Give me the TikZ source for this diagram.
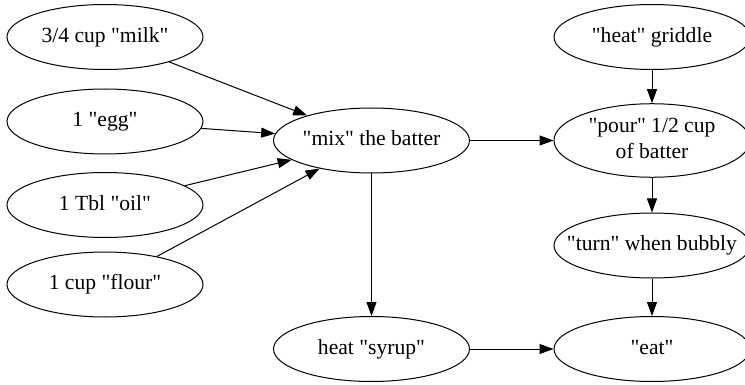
\documentclass[tikz,border=0pt]{standalone}
\usepackage{fontspec}
\setmainfont{Liberation Serif}[Ligatures=TeXOff]
\usetikzlibrary{arrows.meta,shapes.geometric}
\newcommand{\lbl}[1]{\makebox[0pt][c]{\begin{tabular}{@{}c@{}}#1\end{tabular}}}
\begin{document}
\begin{tikzpicture}[x=1pt,y=-1pt,
  state/.style={draw, ellipse, line width=1pt, minimum width=196pt, minimum height=65pt, inner sep=0pt, font=\fontsize{21.6}{26}\selectfont},
  edge/.style={draw, line width=1pt, -{Triangle[length=14pt,width=10pt]}}]
\useasboundingbox (0,0) rectangle (745,385);
\node[state] (milk)  at (105,37)    {\lbl{3/4 cup "milk"}};
\node[state] (egg)   at (105,121.5) {\lbl{1 "egg"}};
\node[state] (oil)   at (105,205)   {\lbl{1 Tbl "oil"}};
\node[state] (flour) at (105,284.5) {\lbl{1 cup "flour"}};
\node[state] (mix)   at (371.5,140.5) {\lbl{"mix" the batter}};
\node[state] (syrup) at (371.5,349) {\lbl{heat "syrup"}};
\node[state] (grid)  at (652,37)    {\lbl{"heat" griddle}};
\node[state] (pour)  at (652,140.5) {\lbl{"pour" 1/2 cup\\of batter}};
\node[state] (turn)  at (652,245.5) {\lbl{"turn" when bubbly}};
\node[state] (eat)   at (652,349)   {\lbl{"eat"}};
\draw[edge] (milk) -- (mix);
\draw[edge] (egg) -- (mix);
\draw[edge] (oil) -- (mix);
\draw[edge] (flour) -- (mix);
\draw[edge] (mix) -- (pour);
\draw[edge] (mix) -- (syrup);
\draw[edge] (grid) -- (pour);
\draw[edge] (pour) -- (turn);
\draw[edge] (turn) -- (eat);
\draw[edge] (syrup) -- (eat);
\end{tikzpicture}
\end{document}
